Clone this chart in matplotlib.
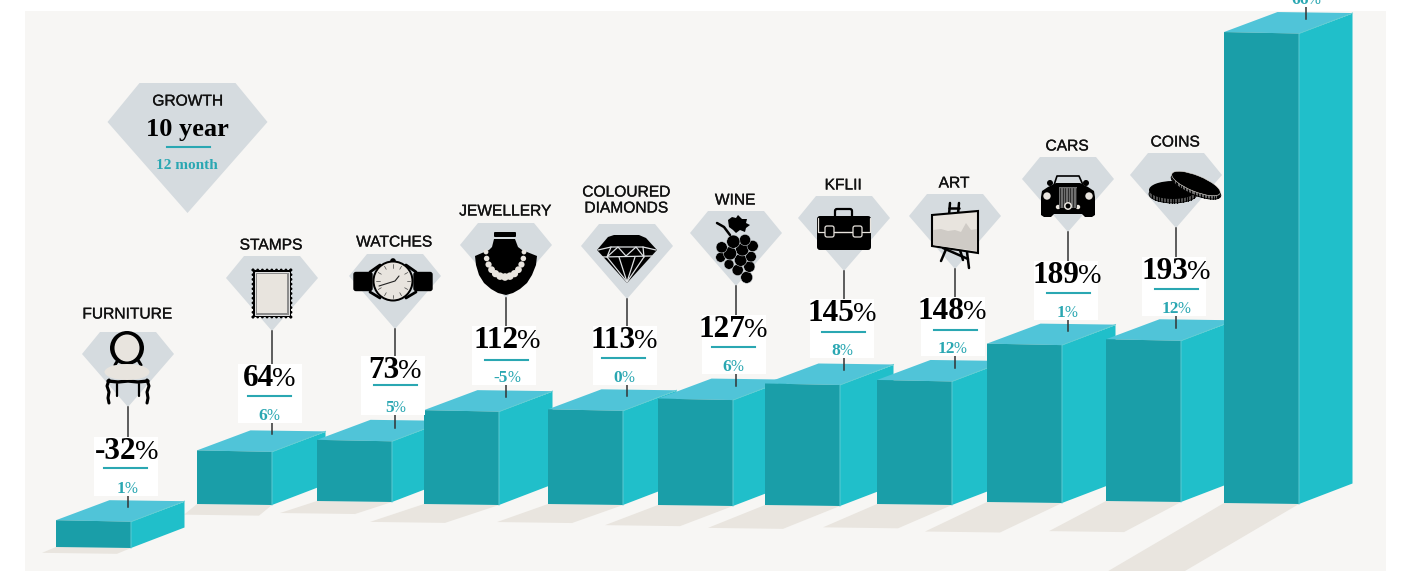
import numpy as np
import matplotlib
matplotlib.use('Agg')
import matplotlib.pyplot as plt
import matplotlib.patheffects as pe
from matplotlib.patches import Polygon, Circle, Ellipse, Rectangle, FancyBboxPatch

# growth figures, 10 year and 12 month (%)
categories = ['FURNITURE', 'STAMPS', 'WATCHES', 'JEWELLERY', 'COLOURED\nDIAMONDS',
              'WINE', 'KFLII', 'ART', 'CARS', 'COINS', '']
ten_year = [-32, 64, 73, 112, 113, 127, 145, 148, 189, 193, 562]
twelve_month = [1, 6, 5, -5, 0, 6, 8, 12, 1, 12, 66]

# layout of the columns, pixels
bar_left = [56, 197, 317, 424, 548, 658, 765, 877, 987, 1106, 1224]
bar_base = [547, 504, 501, 504, 504, 505, 505, 504, 502, 501, 503]
shadow_dx = [-14, -13, -37, -54, -51, -53, -57, -54, -62, -57, -146]
stem_x = [128, 272, 395, 506, 627, 736, 844, 955, 1068, 1176, 1306]
stem_end = [507, 434, 428, 397, 396, 386, 370, 368, 331, 328, 19]
card_top = [437, 364, 356, 326, 326, 315, 299, 297, 261, 257, -52]
text_x = [127, 269, 395, 507, 624, 733, 842, 952, 1067, 1176, 1306]
rule_x = [104, 248, 374, 485, 602, 712, 822, 934, 1047, 1155, 1285]
rule_dy = [31, 32, 29, 34, 32, 32, 33, 33, 32, 32, 32]
gem_mid = [354, 278, 276, 245, 246, 233, 218, 216, 179, 175]
label_y = [314, 245, 242, 211, 200, 200, 185, 183, 146, 142]

PX_PER_PCT = 0.838
BAR_W = 75
DEPTH_X, DEPTH_Y = 53.5, 20

PANEL = '#F7F6F4'
FRONT = '#1A9EA8'
SIDE = '#20BFCA'
TOP = '#50C4D8'
SEAM = '#5CCBD3'
SHADOW = '#E9E5DF'
GEM = '#D5DBDF'
TEAL = '#2AA7B2'
CREAM = '#E8E4DE'
SANS = 'Liberation Sans'
SERIF = 'Liberation Serif'

fig = plt.figure(figsize=(14.03, 5.71), dpi=100, facecolor='white')
ax = fig.add_axes([0, 0, 1, 1])
ax.set_xlim(0, 1403)
ax.set_ylim(571, 0)
ax.axis('off')
renderer = fig.canvas.get_renderer()

ax.add_patch(Rectangle((25, 11), 1361, 560, fc=PANEL, ec='none', zorder=0))


def poly(pts, color, z=5, **kw):
    ax.add_patch(Polygon(pts, closed=True, fc=color, ec=kw.pop('ec', 'none'), zorder=z, **kw))


def line(pts, color='black', lw=1.0, z=7):
    xs, ys = zip(*pts)
    ax.plot(xs, ys, color=color, lw=lw, zorder=z, solid_capstyle='round', solid_joinstyle='round')


def at(cx, cy, pts):
    return [(cx + x, cy + y) for x, y in pts]


def gem(cx, mid):
    poly([(cx - 46, mid), (cx - 28, mid - 22), (cx + 28, mid - 22), (cx + 46, mid), (cx, mid + 53)], GEM, z=3)


def pct_text(x, base, value, size, color, z=6):
    # digits in bold and a light percent sign tucked in close, centred as one group
    t1 = ax.text(x, base, str(value), family=SERIF, weight='bold', size=size, color=color,
                 ha='left', va='baseline', zorder=z)
    t2 = ax.text(x, base, '%', family=SERIF, size=size * 0.9, color=color, ha='left', va='baseline', zorder=z)
    w1 = t1.get_window_extent(renderer).width - size * 0.08
    w2 = t2.get_window_extent(renderer).width
    t1.set_x(x - (w1 + w2) / 2)
    t2.set_x(x - (w1 + w2) / 2 + w1)


def chair(cx, cy):
    ax.add_patch(Ellipse((cx - 1, cy - 6), 34, 34, fc='black', zorder=6))
    ax.add_patch(Ellipse((cx - 1, cy - 6), 25, 27, fc=CREAM, zorder=7))
    line(at(cx, cy, [(-10, 6), (-13, 11)]), lw=2.2)
    line(at(cx, cy, [(10, 6), (13, 11)]), lw=2.2)
    line(at(cx, cy, [(-20, 27), (-10, 28), (0, 27), (10, 28), (20, 27)]), lw=2.4)
    for s in (-1, 1):
        line(at(cx, cy, [(s * 19, 26), (s * 21, 32), (s * 19, 38), (s * 20, 44), (s * 19, 49)]), lw=2.2)
        line(at(cx, cy, [(s * 11, 30), (s * 11, 42)]), lw=1.6)
    ax.add_patch(Ellipse((cx - 1, cy + 18), 45, 16, fc=CREAM, zorder=8))


def stamp(cx, cy):
    x0, x1, y0, y1 = cx - 20, cx + 20, cy - 9, cy + 40
    ax.add_patch(Rectangle((x0 + 1, y0 + 1), x1 - x0 - 2, y1 - y0 - 2, fc='black', zorder=6))
    for x in np.arange(x0 + 1, x1 + 0.5, 4.7):
        for y in (y0 + 1, y1 - 1):
            ax.add_patch(Circle((x, y), 1.4, fc='black', zorder=6))
    for y in np.arange(y0 + 1, y1 + 0.5, 4.7):
        for x in (x0 + 1, x1 - 1):
            ax.add_patch(Circle((x, y), 1.4, fc='black', zorder=6))
    ax.add_patch(Rectangle((x0 + 3, y0 + 3), 34, 43, fc='#8C8C8C', ec='white', lw=0.6, zorder=7))
    ax.add_patch(Rectangle((x0 + 5, y0 + 5), 30, 39, fc=CREAM, zorder=8))


def watch(cx, cy):
    dx, dy = cx - 2, cy + 5
    for x0 in (-39, 21):
        ax.add_patch(FancyBboxPatch((dx + x0, dy - 8.5), 18, 18, boxstyle='round,pad=0,rounding_size=2',
                                    fc='black', ec='black', lw=1, zorder=6))
    for sx in (-1, 1):
        line([(dx + sx * 23, dy - 9), (dx + sx * 13, dy - 16)], lw=2.0)
        line([(dx + sx * 23, dy + 11), (dx + sx * 13, dy + 17)], lw=2.0)
    ax.add_patch(Circle((dx, dy - 20), 2.8, fc='black', zorder=6))
    ax.add_patch(Circle((dx, dy), 20.5, fc='black', zorder=7))
    ax.add_patch(Circle((dx, dy), 18.5, fc=CREAM, zorder=8))
    for a in np.arange(0, 2 * np.pi, np.pi / 6):
        line([(dx + 13.5 * np.cos(a), dy + 13.5 * np.sin(a)),
              (dx + 17 * np.cos(a), dy + 17 * np.sin(a))], color='#444444', lw=0.5, z=9)
    line([(dx - 14, dy + 5), (dx + 2, dy), (dx + 6, dy - 5)], color='#222222', lw=0.8, z=9)


def bust(cx, cy):
    poly(at(cx, cy, [(-12, -6), (9, -6), (12, 2), (16, 5), (31, 11), (30, 20), (26, 30), (21, 38), (14, 44), (7, 48),
                     (0, 50), (-8, 48), (-15, 44), (-22, 38), (-27, 30), (-30, 20), (-31, 11), (-17, 5), (-14, 2)]),
         'black', z=6)
    ax.add_patch(FancyBboxPatch((cx - 12, cy - 13), 22, 5, boxstyle='round,pad=0,rounding_size=1',
                                fc='black', ec='none', zorder=6))
    for a in np.linspace(0, np.pi, 13):
        r = 2.4 + 1.4 * np.sin(a)
        ax.add_patch(Circle((cx + 19 * np.cos(a) - 1, cy + 7 + 25 * np.sin(a)), r, fc=CREAM, zorder=7))


def brilliant(cx, cy):
    poly(at(cx, cy, [(-19, -9), (-13, -11), (12, -11), (19, -8), (30, 4), (0, 37), (-30, 4)]), 'black', z=6)
    col = '#DDE0E2'
    line(at(cx, cy, [(-29, 4), (-16, 1), (16, 1), (29, 4)]), col, 0.9)
    line(at(cx, cy, [(-25, 11), (25, 10)]), col, 0.9)
    line(at(cx, cy, [(-16, 1), (-20, 11), (-9, 1), (-1, 10), (9, 1), (17, 11), (16, 1)]), col, 0.9)
    line(at(cx, cy, [(-20, 11), (0, 36), (17, 11)]), col, 0.9)
    line(at(cx, cy, [(-8, 11), (0, 36), (8, 11)]), col, 0.9)


def grapes(cx, cy):
    berries = [(160, 215, 18), (195, 210, 15), (218, 228, 15), (125, 232, 15), (150, 250, 18), (187, 238, 18),
               (213, 260, 14), (122, 262, 13), (147, 283, 13), (182, 270, 17), (208, 290, 15), (173, 300, 15),
               (200, 322, 16)]
    for zx, zy, zr in berries[::-1]:
        ax.add_patch(Circle((cx + zx / 3 - 56, cy + zy / 3 - 63), zr / 3 + 0.6, fc='black', ec=GEM, lw=0.35, zorder=6))
    line(at(cx, cy, [(-19, -10), (-12, -6), (-6, 2)]), lw=1.8)
    poly(at(cx, cy, [(-8, -13), (-4, -16), (0, -15), (2, -18), (6, -14), (11, -14), (10, -10), (14, -8), (10, -5),
                     (9, -1), (4, -3), (0, 0), (-3, -3), (-7, -6)]), 'black', z=6)


def briefcase(cx, cy):
    ax.add_patch(FancyBboxPatch((cx - 9, cy - 9), 17, 9, boxstyle='round,pad=0,rounding_size=2',
                                fc='none', ec='black', lw=1.6, zorder=6))
    ax.add_patch(FancyBboxPatch((cx - 27, cy - 2), 54, 34, boxstyle='round,pad=0,rounding_size=3',
                                fc='black', ec='none', zorder=7))
    line(at(cx, cy, [(-26, 0), (-26, 14), (-18, 14)]), CREAM, 0.9, z=8)
    line(at(cx, cy, [(-10, 14), (10, 14)]), CREAM, 1.0, z=8)
    line(at(cx, cy, [(18, 14), (26, 14), (26, 0)]), CREAM, 0.9, z=8)
    for x0 in (-19, 9):
        ax.add_patch(FancyBboxPatch((cx + x0, cy + 8), 9, 11, boxstyle='round,pad=0,rounding_size=2',
                                    fc='black', ec=CREAM, lw=0.9, zorder=9))


def easel(cx, cy):
    for pts in ([(-5, -13), (-6, -1)], [(4, -13), (3, -2)], [(-6, -8), (4, -8)],
                [(-8, 31), (-14, 45)], [(5, 34), (8, 44)], [(12, 36), (14, 52)], [(-12, 32), (13, 43)]):
        line(at(cx, cy, pts), lw=1.8, z=6)
    poly(at(cx, cy, [(-23, -1), (23, -5), (23, 37), (-23, 30)]), CREAM, z=7, ec='black', lw=1.5)
    poly(at(cx, cy, [(-22, 14), (-14, 13), (-7, 15), (0, 14), (6, 16), (11, 7), (16, 14), (22, 13), (22, 35), (-22, 29)]),
         '#CFCBC6', z=8)


def car(cx, cy):
    line(at(cx, cy, [(-14, 6), (-11, -3), (11, -3), (15, 6)]), lw=1.2)
    poly(at(cx, cy, [(-12, 4), (12, 4), (20, 8), (26, 12), (27, 18), (27, 36), (24, 38), (17, 38), (14, 35), (-14, 35),
                     (-17, 38), (-24, 38), (-27, 36), (-27, 18), (-26, 12), (-20, 8)]), 'black', z=6)
    for s in (-1, 1):
        ax.add_patch(Circle((cx + s * 18, cy + 4), 3, fc='black', zorder=6))
        ax.add_patch(Circle((cx + s * 21, cy + 17), 3.7, fc=CREAM, zorder=7))
        ax.add_patch(Circle((cx + s * 10, cy + 28), 2.2, fc=CREAM, zorder=7))
    ax.add_patch(Rectangle((cx - 9, cy + 8), 18, 21, fc='#6E6E6E', zorder=7))
    for x in np.arange(-8, 9, 2.6):
        line(at(cx, cy, [(x, 9), (x, 28)]), '#222222', 0.6, z=8)
    ax.add_patch(Circle((cx, cy + 27), 3.2, fc='black', ec=CREAM, lw=1.1, zorder=9))


def coins(cx, cy):
    ax.add_patch(Ellipse((cx - 3, cy + 19), 48, 18, fc='#555555', ec='black', lw=0.6, zorder=6))
    for x in np.linspace(-24, 18, 16):
        drop = 8.8 * np.sqrt(max(0, 1 - ((x + 3) / 24) ** 2))
        line(at(cx, cy, [(x, 19 + drop), (x, 15 + drop)]), 'black', 0.8, z=6)
    ax.add_patch(Ellipse((cx - 3, cy + 15), 48, 18, fc='black', zorder=7))
    ax.add_patch(Ellipse((cx + 20, cy + 11.5), 53, 17, angle=22, fc='#6A6A6A', ec='black', lw=0.7, zorder=8))
    for a in np.linspace(0.15, np.pi - 0.15, 22):
        u, v = 26 * np.cos(a), 8 * np.sin(a)
        x = 20 + u * np.cos(np.radians(22)) - v * np.sin(np.radians(22))
        y = 11.5 + u * np.sin(np.radians(22)) + v * np.cos(np.radians(22))
        line(at(cx, cy, [(x, y), (x, y - 3)]), 'black', 0.7, z=8.5)
    ax.add_patch(Ellipse((cx + 20, cy + 8.5), 52, 16, angle=22, fc='black', ec=CREAM, lw=0.4, zorder=9))


# ground shadows first, they run under the neighbouring columns
for left, base, value, dx in zip(bar_left, bar_base, ten_year, shadow_dx):
    dy = 0.18 * abs(value) * PX_PER_PCT + 1
    poly([(left, base), (left + BAR_W, base + 1), (left + BAR_W + dx, base + dy + 1), (left + dx, base + dy)],
         SHADOW, z=1)

# columns, left to right so each one covers the previous
for i, (left, base, value) in enumerate(zip(bar_left, bar_base, ten_year)):
    top = base - abs(value) * PX_PER_PCT
    right = left + BAR_W
    z = 2 + i * 0.01
    poly([(right, top + 1.5), (right + DEPTH_X, top - DEPTH_Y + 1.5), (right + DEPTH_X, base + 1 - DEPTH_Y - 0.5),
          (right, base + 1)], SIDE, z=z)
    poly([(left, top), (right, top + 1.5), (right + DEPTH_X, top - DEPTH_Y + 1), (left + DEPTH_X, top - DEPTH_Y)],
         TOP, z=z)
    poly([(left, top), (right, top + 1.5), (right, base + 1), (left, base)], FRONT, z=z)
    ax.plot([right, right, right + DEPTH_X], [base + 1, top + 1.5, top - DEPTH_Y + 1], color=SEAM, lw=0.7, zorder=z)

# diamonds with the category names and their icons
heavy = [pe.withStroke(linewidth=0.2, foreground='#111111')]
icons = [chair, stamp, watch, bust, brilliant, grapes, briefcase, easel, car, coins]
for i, icon in enumerate(icons):
    gem(stem_x[i], gem_mid[i])
    icon(stem_x[i], gem_mid[i])
    ax.text(stem_x[i] - 1, label_y[i], categories[i], family=SANS, size=11.2, color='#111111', ha='center',
            va='center', linespacing=1.08, zorder=10, path_effects=heavy)

# value cards on stems from the diamond tip down to the column top
for i, x in enumerate(stem_x):
    start = gem_mid[i] + 53 if i < len(gem_mid) else 0
    ax.plot([x, x], [start, stem_end[i]], color='#333333', lw=1.1, zorder=4)
    top = card_top[i]
    ax.add_patch(Rectangle((x - 34, top), 64, 59, fc='white', ec='none', zorder=5))
    pct_text(text_x[i], top + 22, ten_year[i], 22.5, 'black')
    ax.plot([rule_x[i], rule_x[i] + 43], [top + rule_dy[i]] * 2, color=TEAL, lw=1.5, zorder=6)
    pct_text(text_x[i], top + 56, twelve_month[i], 12.5, TEAL)

# key in the top left corner
gem_x, gem_y = 187.5, 122
poly([(gem_x - 80, gem_y), (gem_x - 48, gem_y - 39), (gem_x + 48, gem_y - 39), (gem_x + 80, gem_y), (gem_x, gem_y + 91)],
     GEM, z=3)
ax.text(gem_x, 101, 'GROWTH', family=SANS, size=11.2, color='#111111', ha='center', va='center', zorder=6,
        path_effects=heavy)
ax.text(gem_x, 136, '10 year', family=SERIF, weight='bold', size=19, color='black', ha='center', va='baseline', zorder=6)
ax.plot([gem_x - 21, gem_x + 22], [146.5, 146.5], color=TEAL, lw=1.5, zorder=6)
ax.text(gem_x - 1, 169, '12 month', family=SERIF, weight='bold', size=11, color=TEAL, ha='center', va='baseline', zorder=6)

fig.savefig('out.png', dpi=100, facecolor='white')
